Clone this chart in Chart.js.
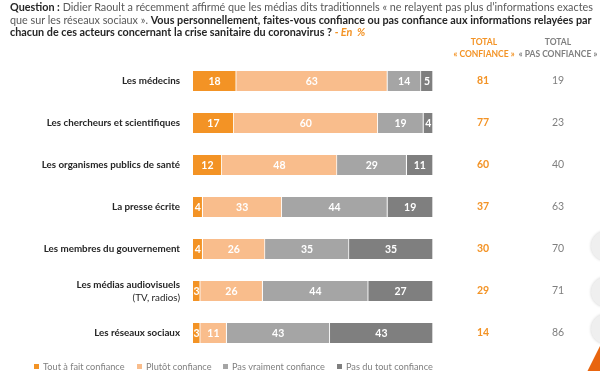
<!DOCTYPE html>
<html lang="fr">
<head>
  <meta charset="UTF-8">
  <title>Confiance dans les informations</title>
  <style>
    body {
      margin: 0;
      width: 600px;
      height: 371px;
      overflow: hidden;
      background: #fff;
      font-family: 'Lato', sans-serif;
      position: relative;
    }
    .question {
      position: absolute;
      left: 10px;
      top: 1px;
      width: 585px;
      font-size: 10.8px;
      line-height: 12.6px;
      color: #595959;
    }
    .question b { color: #262626; }
    .question .pct { color: #f39325; font-style: italic; font-weight: bold; }
    #wrap { position: absolute; left: 0; top: 0; width: 600px; height: 371px; }
    .deco {
      position: absolute;
      width: 30px;
      height: 30px;
      border-radius: 50%;
      background: #efefef;
      box-shadow: 0 0 3px #d0d0d0;
    }
    .corner {
      position: absolute;
      left: 584px;
      top: 338px;
      width: 20px;
      height: 40px;
      background: #e8650f;
      clip-path: polygon(100% 0, 100% 100%, 0 100%);
    }
  </style>
  <script src="https://cdn.jsdelivr.net/npm/chart.js"></script>
</head>
<body>
  <div id="wrap"><canvas id="chart" width="600" height="371"></canvas></div>
  <div class="question">
    <b>Question :</b> Didier Raoult a récemment affirmé que les médias dits traditionnels « ne relayent pas plus d’informations exactes
    que sur les réseaux sociaux ». <b>Vous personnellement, faites-vous confiance ou pas confiance aux informations relayées par
    chacun de ces acteurs concernant la crise sanitaire du coronavirus ?</b> <span class="pct">- En &nbsp;%</span>
  </div>
  <div class="deco" style="left:591px; top:231px;"></div>
  <div class="deco" style="left:591px; top:277px;"></div>
  <div class="deco" style="left:591px; top:314px;"></div>
  <div class="corner"></div>

  <script>
    const categories = [
      ['Les médecins'],
      ['Les chercheurs et scientifiques'],
      ['Les organismes publics de santé'],
      ['La presse écrite'],
      ['Les membres du gouvernement'],
      ['Les médias audiovisuels', '(TV, radios)'],
      ['Les réseaux sociaux']
    ];
    const seriesNames = ['Tout à fait confiance', 'Plutôt confiance', 'Pas vraiment confiance', 'Pas du tout confiance'];
    const toutAFait   = [18, 17, 12, 4, 4, 3, 3];
    const plutot      = [63, 60, 48, 33, 26, 26, 11];
    const pasVraiment = [14, 19, 29, 44, 35, 44, 43];
    const pasDuTout   = [5, 4, 11, 19, 35, 27, 43];
    const totalConfiance    = [81, 77, 60, 37, 30, 29, 14];
    const totalPasConfiance = [19, 23, 40, 63, 70, 71, 86];

    const colors = ['#f39325', '#f9bd8c', '#a5a5a5', '#7f7f7f'];
    const FONT = 'Lato, sans-serif';

    // labels, values in bars, total columns and legend
    const overlay = {
      id: 'overlay',
      afterDatasetsDraw(chart) {
        const ctx = chart.ctx;
        const y = chart.scales.y;
        ctx.save();

        // values inside segments
        ctx.font = 'bold 10.5px ' + FONT;
        ctx.fillStyle = '#fff';
        ctx.textAlign = 'center';
        ctx.textBaseline = 'middle';
        chart.data.datasets.forEach((ds, di) => {
          chart.getDatasetMeta(di).data.forEach((bar, i) => {
            ctx.fillText(String(ds.data[i]), (bar.x + bar.base) / 2, bar.y + 0.5);
          });
        });

        // category labels
        ctx.textAlign = 'right';
        ctx.fillStyle = '#262626';
        categories.forEach((lines, i) => {
          const cy = y.getPixelForValue(i);
          ctx.font = 'bold 9.8px ' + FONT;
          if (lines.length === 1) {
            ctx.fillText(lines[0], 180, cy);
          } else {
            ctx.fillText(lines[0], 180, cy - 6);
            ctx.font = '9.8px ' + FONT;
            ctx.fillText(lines[1], 180, cy + 7);
          }
        });

        // total columns
        ctx.textAlign = 'center';
        ctx.font = 'bold 8.5px ' + FONT;
        ctx.fillStyle = '#f39325';
        ctx.fillText('TOTAL', 484, 42);
        ctx.fillText('« CONFIANCE »', 484, 54);
        ctx.fillStyle = '#7f7f7f';
        ctx.fillText('TOTAL', 558, 42);
        ctx.fillText('« PAS CONFIANCE »', 558, 54);
        totalConfiance.forEach((v, i) => {
          const cy = y.getPixelForValue(i);
          ctx.font = 'bold 10.5px ' + FONT;
          ctx.fillStyle = '#f39325';
          ctx.fillText(String(v), 483, cy);
          ctx.font = '10.5px ' + FONT;
          ctx.fillStyle = '#7f7f7f';
          ctx.fillText(String(totalPasConfiance[i]), 558, cy);
        });

        // legend
        const lx = [43, 146, 232, 346];
        ctx.textAlign = 'left';
        ctx.font = '9.2px ' + FONT;
        seriesNames.forEach((name, i) => {
          ctx.fillStyle = colors[i];
          ctx.fillRect(lx[i] - 9, 364, 5, 5);
          ctx.fillStyle = '#7f7f7f';
          ctx.fillText(name, lx[i], 367);
        });
        ctx.restore();
      }
    };

    const datasets = [toutAFait, plutot, pasVraiment, pasDuTout].map((d, i) => ({
      label: seriesNames[i],
      data: d,
      backgroundColor: colors[i],
      borderColor: '#fff',
      borderWidth: { right: 1 },
      borderSkipped: false,
      barThickness: 20
    }));

    new Chart(document.getElementById('chart'), {
      type: 'bar',
      data: { labels: categories.map(c => c.join(' ')), datasets: datasets },
      options: {
        indexAxis: 'y',
        responsive: false,
        animation: false,
        layout: { padding: { left: 193, right: 167, top: 60, bottom: 17 } },
        plugins: { legend: { display: false }, tooltip: { enabled: false } },
        scales: {
          x: { stacked: true, min: 0, max: 100, display: false },
          y: { stacked: true, display: false }
        }
      },
      plugins: [overlay]
    });
  </script>
</body>
</html>
